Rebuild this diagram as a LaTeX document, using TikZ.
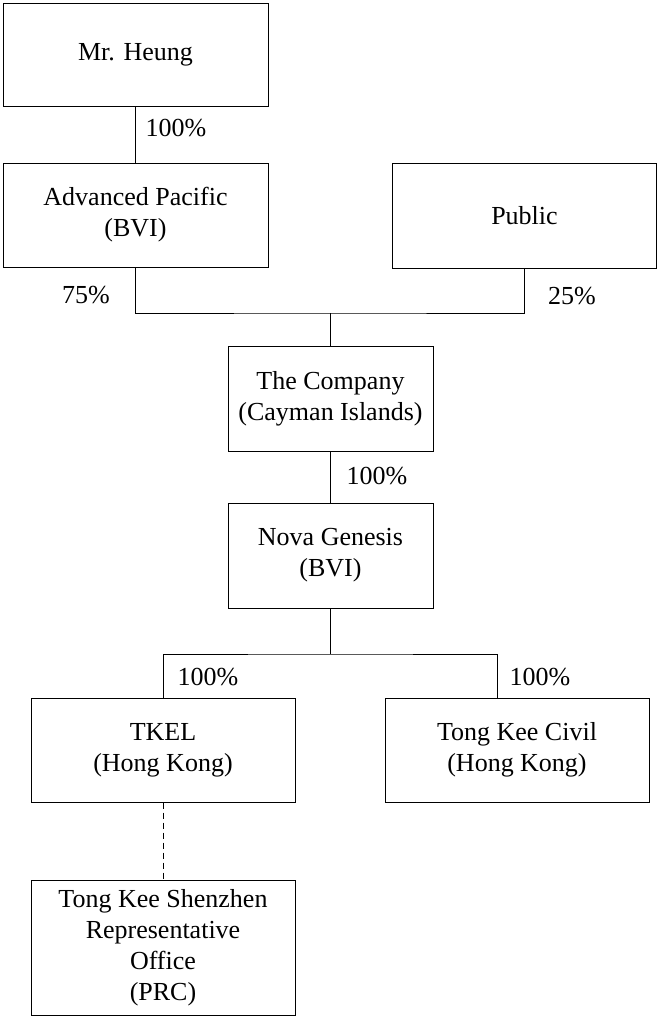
\documentclass[tikz,border=0pt]{standalone}
\usepackage{fontspec}
\setmainfont{Liberation Serif}
\usepackage{tikz}
\usetikzlibrary{positioning,calc}
\tikzset{
  entity/.style={draw,line width=1pt,align=center,inner sep=0pt,
    font=\fontsize{26}{31}\selectfont},
  pct/.style={anchor=base,inner sep=0pt,font=\fontsize{26}{31}\selectfont},
  link/.style={line width=1pt}
}

\begin{document}
\begin{tikzpicture}[x=1pt,y=-1pt]
\useasboundingbox (0,0) rectangle (657,1017);
% owners
\node[entity,minimum width=265pt,minimum height=103pt] (heung) at (135.5,54.5) {Mr. Heung};
\node[entity,minimum width=265pt,minimum height=104pt] (advpac) at (135.5,215) {Advanced Pacific\\(BVI)};
\node[entity,minimum width=264pt,minimum height=105pt] (public) at (524.5,215.5) {Public};
% listed company and subsidiaries
\node[entity,minimum width=205pt,minimum height=105pt] (company) at (330.5,398.5) {The Company\\(Cayman Islands)};
\node[entity,minimum width=205pt,minimum height=105pt] (nova) at (330.5,555.5) {Nova Genesis\\(BVI)};
\node[entity,minimum width=264pt,minimum height=104pt] (tkel) at (163,750) {TKEL\\(Hong Kong)};
\node[entity,minimum width=264pt,minimum height=104pt] (civil) at (517,750) {Tong Kee Civil\\(Hong Kong)};
\node[entity,minimum width=264pt,minimum height=135pt] (shenzhen) at (163,947.5) {Tong Kee Shenzhen\\Representative\\Office\\(PRC)};
% junctions
\coordinate (jtop) at (330.5,313);
\coordinate (jmid) at (330.5,654);
% connectors
\draw[link] (heung.south) -- (advpac.north);
\draw[link] (advpac.south) |- (jtop) -| (public.south);
\draw[link] (jtop) -- (company.north);
\draw[link] (company.south) -- (nova.north);
\draw[link] (nova.south) -- (jmid);
\draw[link] (tkel.north) |- (jmid) -| ([xshift=-20pt]civil.north);
\draw[link,dash pattern=on 6pt off 4pt] (tkel.south) -- (shenzhen.north);
% holdings
\node[pct] (p1) at (176,136) {100\%};
\node[pct] (p2) at (86,303) {75\%};
\node[pct] (p3) at (572,304) {25\%};
\node[pct] (p4) at (377,484) {100\%};
\node[pct] (p5) at (208,685) {100\%};
\node[pct] (p6) at (540,685) {100\%};
\end{tikzpicture}
\end{document}
